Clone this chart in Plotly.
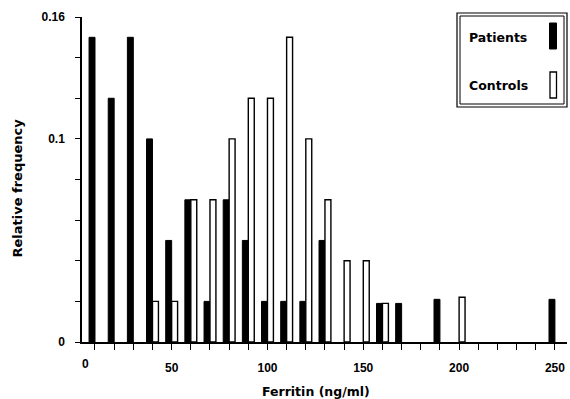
import plotly.graph_objects as go

# ---- data ----
patient_x = [10, 20, 30, 40, 50, 60, 70, 80, 90, 100, 110, 120, 130, 160, 170, 190, 250]
patient_y = [0.15, 0.12, 0.15, 0.10, 0.05, 0.07, 0.02, 0.07, 0.05, 0.02, 0.02, 0.02, 0.05,
             0.019, 0.019, 0.021, 0.021]
control_x = [40, 50, 60, 70, 80, 90, 100, 110, 120, 130, 140, 150, 160, 200]
control_y = [0.02, 0.02, 0.07, 0.07, 0.10, 0.12, 0.12, 0.15, 0.10, 0.07, 0.04, 0.04, 0.019, 0.022]

x_tick_vals = list(range(10, 251, 10))
x_tick_text = [str(v) if v % 50 == 0 else "" for v in x_tick_vals]
y_tick_vals = [0, 0.02, 0.04, 0.06, 0.08, 0.10, 0.12, 0.14, 0.16]
y_tick_text = ["0", "", "", "", "", "0.1", "", "", "0.16"]

W, H = 570, 399
L, R, T, B = 82, 3, 17, 57
PW, PH = W - L - R, H - T - B


def pxx(p):
    return (p - L) / PW


def pxy(p):
    return (H - B - p) / PH


TICKFONT = dict(family="Liberation Sans, Arial", size=12, color="black", weight="bold")
TXTFONT = dict(family="DejaVu Sans", size=12.5, color="black", weight="bold")

fig = go.Figure()
fig.add_trace(go.Bar(x=patient_x, y=patient_y, width=3.1, offset=-3.1, name="Patients",
                     marker=dict(color="black", line=dict(color="black", width=1))))
fig.add_trace(go.Bar(x=control_x, y=control_y, width=3.1, offset=0, name="Controls",
                     marker=dict(color="white", line=dict(color="black", width=1.4))))

shapes = [
    dict(type="rect", xref="paper", yref="paper", x0=pxx(457), x1=pxx(567), y0=pxy(107), y1=pxy(13),
         line=dict(color="black", width=1.2), fillcolor="rgba(0,0,0,0)"),
    dict(type="rect", xref="paper", yref="paper", x0=pxx(460), x1=pxx(564), y0=pxy(104), y1=pxy(16),
         line=dict(color="black", width=1), fillcolor="rgba(0,0,0,0)"),
    dict(type="rect", xref="paper", yref="paper", x0=pxx(549.5), x1=pxx(556.5), y0=pxy(49), y1=pxy(23),
         line=dict(color="black", width=1), fillcolor="black"),
    dict(type="rect", xref="paper", yref="paper", x0=pxx(550), x1=pxx(556.5), y0=pxy(98), y1=pxy(72),
         line=dict(color="black", width=1.3), fillcolor="white"),
]

annotations = [
    dict(text="Patients", xref="paper", yref="paper", x=pxx(467), y=pxy(37), xanchor="left",
         yanchor="middle", showarrow=False, font=TXTFONT),
    dict(text="Controls", xref="paper", yref="paper", x=pxx(467), y=pxy(85), xanchor="left",
         yanchor="middle", showarrow=False, font=TXTFONT),
    dict(text="Ferritin (ng/ml)", xref="paper", yref="paper", x=pxx(316), y=pxy(392),
         xanchor="center", yanchor="middle", showarrow=False, font=TXTFONT),
    dict(text="Relative frequency", xref="paper", yref="paper", x=pxx(16.5), y=pxy(188),
         xanchor="center", yanchor="middle", textangle=-90, showarrow=False,
         font=dict(TXTFONT, size=13)),
    dict(text="0", xref="paper", yref="paper", x=pxx(85), y=pxy(364), xanchor="center",
         yanchor="middle", showarrow=False, font=TICKFONT),
]

fig.update_layout(
    width=W, height=H,
    margin=dict(l=L, r=R, t=T, b=B, pad=0),
    paper_bgcolor="white", plot_bgcolor="white",
    barmode="overlay", showlegend=False,
    shapes=shapes, annotations=annotations,
    xaxis=dict(range=[3.22, 256.3], tickmode="array", tickvals=x_tick_vals, ticktext=x_tick_text,
               ticks="outside", ticklen=6, tickwidth=1.2, tickcolor="black",
               showline=True, linecolor="black", linewidth=1.5, showgrid=False, zeroline=False,
               tickfont=TICKFONT, ticklabelstandoff=8),
    yaxis=dict(range=[0, 0.16], tickmode="array", tickvals=y_tick_vals, ticktext=y_tick_text,
               ticks="outside", ticklen=5, tickwidth=1.2, tickcolor="black",
               showline=True, linecolor="black", linewidth=1.5, showgrid=False, zeroline=False,
               tickfont=TICKFONT, ticklabelstandoff=8),
)

fig.write_html(
    "out.html",
    config={"displayModeBar": False},
    post_script="document.body.style.margin='0';document.body.style.overflow='hidden';",
)
